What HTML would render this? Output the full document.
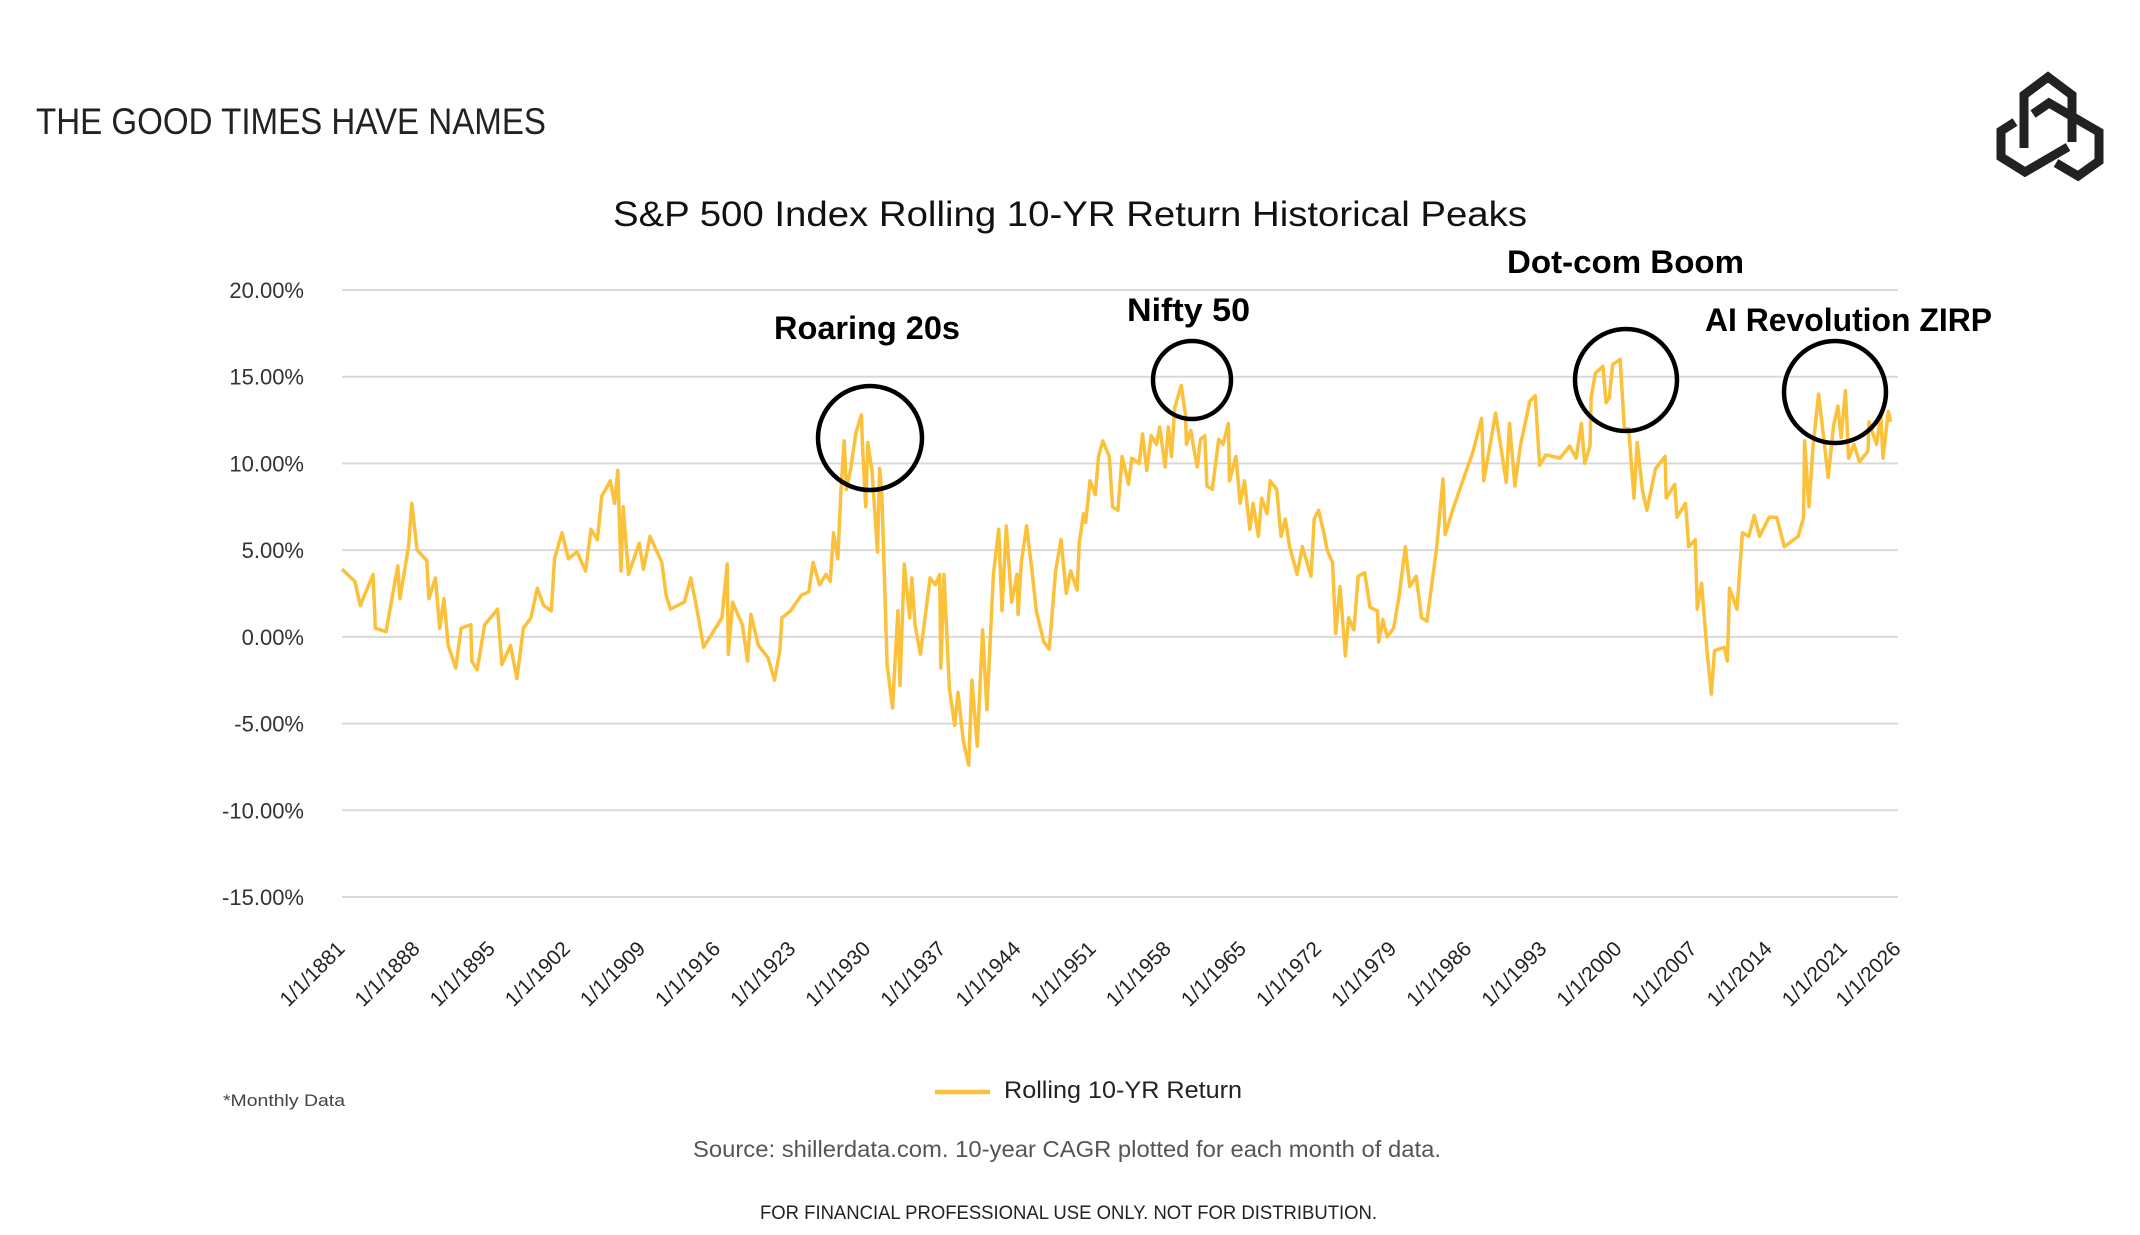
<!DOCTYPE html>
<html><head><meta charset="utf-8"><style>
html,body{margin:0;padding:0;background:#fff;}
svg{display:block;}
text{font-family:"Liberation Sans",sans-serif;}
</style></head><body>
<svg id="chart" width="2140" height="1235" viewBox="0 0 2140 1235" xmlns="http://www.w3.org/2000/svg">
<rect width="2140" height="1235" fill="#fff"/>
<text x="36" y="134" font-size="37" fill="#222" textLength="510" lengthAdjust="spacingAndGlyphs">THE GOOD TIMES HAVE NAMES</text>
<g fill="none" stroke="#222" stroke-width="9" stroke-linejoin="miter">
<polyline points="2024,148 2024,95 2048,77 2072,95 2072,142"/>
<polyline points="2033,114 2049,103 2099,132 2099,161 2078,176 2056,163"/>
<polyline points="2015,122 2001,131 2001,157 2025,172 2068,147"/>
</g>
<text x="1070" y="226" text-anchor="middle" font-size="35" fill="#111" textLength="914" lengthAdjust="spacingAndGlyphs">S&amp;P 500 Index Rolling 10-YR Return Historical Peaks</text>
<g id="grid"></g>
<g id="yaxis"></g>
<g id="xaxis"></g>
<g id="series"></g>
<g fill="none" stroke="#000" stroke-width="4.5">
<circle cx="870" cy="438" r="52"/>
<circle cx="1192" cy="380" r="39"/>
<circle cx="1626" cy="380" r="51"/>
<circle cx="1835" cy="392" r="51"/>
</g>
<g font-size="32" fill="#000" font-weight="bold">
<text x="774" y="339" textLength="186" lengthAdjust="spacingAndGlyphs">Roaring 20s</text>
<text x="1127" y="321" textLength="123" lengthAdjust="spacingAndGlyphs">Nifty 50</text>
<text x="1507" y="273" textLength="237" lengthAdjust="spacingAndGlyphs">Dot-com Boom</text>
<text x="1705" y="331" textLength="287" lengthAdjust="spacingAndGlyphs">AI Revolution ZIRP</text>
</g>
<text x="223" y="1106" font-size="17" fill="#444" textLength="122" lengthAdjust="spacingAndGlyphs">*Monthly Data</text>
<g>
<line x1="935" y1="1092" x2="990" y2="1092" stroke="#FBC13B" stroke-width="4.5"/>
<text x="1004" y="1098" font-size="24" fill="#222" textLength="238" lengthAdjust="spacingAndGlyphs">Rolling 10-YR Return</text>
</g>
<text x="693" y="1157" font-size="23" fill="#555" textLength="748" lengthAdjust="spacingAndGlyphs">Source: shillerdata.com. 10-year CAGR plotted for each month of data.</text>
<text x="760" y="1219" font-size="19" fill="#222" textLength="617" lengthAdjust="spacingAndGlyphs">FOR FINANCIAL PROFESSIONAL USE ONLY. NOT FOR DISTRIBUTION.</text>
</svg>
<script>
const yTicks = [20, 15, 10, 5, 0, -5, -10, -15];
const yTickLabels = ["20.00%","15.00%","10.00%","5.00%","0.00%","-5.00%","-10.00%","-15.00%"];
const xTickYears = [1881,1888,1895,1902,1909,1916,1923,1930,1937,1944,1951,1958,1965,1972,1979,1986,1993,2000,2007,2014,2021,2026];
const dates = [1881.0,1882.2,1882.7,1883.9,1884.1,1885.1,1886.2,1886.4,1887.2,1887.5,1888.0,1888.9,1889.1,1889.7,1890.1,1890.5,1890.9,1891.6,1892.1,1893.0,1893.1,1893.6,1894.3,1895.5,1895.9,1896.7,1897.3,1897.9,1898.6,1899.2,1899.8,1900.5,1900.8,1901.5,1902.1,1902.9,1903.7,1904.2,1904.8,1905.2,1906.0,1906.4,1906.7,1907.0,1907.2,1907.7,1908.7,1909.1,1909.7,1910.8,1911.2,1911.6,1912.9,1913.5,1914.1,1914.7,1915.8,1916.4,1916.9,1917.0,1917.4,1918.3,1918.8,1919.1,1919.8,1920.7,1921.3,1921.8,1922.0,1922.8,1923.8,1924.5,1924.9,1925.5,1926.1,1926.5,1926.8,1927.2,1927.5,1927.8,1928.0,1928.4,1928.9,1929.4,1929.5,1929.8,1930.0,1930.4,1930.9,1931.1,1931.3,1931.8,1932.3,1932.8,1933.0,1933.4,1933.9,1934.1,1934.4,1934.9,1935.8,1936.3,1936.7,1936.8,1937.1,1937.6,1938.1,1938.4,1938.9,1939.4,1939.7,1940.2,1940.7,1941.1,1941.7,1942.2,1942.5,1942.9,1943.4,1943.9,1944.0,1944.3,1944.8,1945.3,1945.7,1946.4,1946.9,1947.5,1948.0,1948.5,1948.9,1949.5,1949.7,1950.1,1950.3,1950.7,1951.2,1951.5,1951.9,1952.5,1952.8,1953.3,1953.7,1954.3,1954.6,1955.3,1955.6,1956.0,1956.4,1956.9,1957.2,1957.7,1958.0,1958.3,1958.6,1959.2,1959.6,1959.7,1960.1,1960.4,1960.7,1961.0,1961.4,1961.6,1962.1,1962.7,1963.1,1963.6,1963.7,1964.3,1964.7,1965.1,1965.6,1965.9,1966.4,1966.7,1967.2,1967.5,1968.1,1968.5,1968.9,1969.3,1970.0,1970.5,1971.3,1971.6,1972.0,1972.5,1972.8,1973.3,1973.6,1974.0,1974.5,1974.8,1975.3,1975.7,1976.3,1976.8,1977.5,1977.6,1978.0,1978.4,1979.0,1979.5,1980.1,1980.5,1981.1,1981.6,1982.1,1983.0,1983.6,1983.8,1984.6,1986.4,1987.2,1987.4,1988.5,1989.5,1989.8,1990.3,1990.8,1991.7,1992.2,1992.6,1993.2,1994.5,1995.4,1996.0,1996.5,1996.8,1997.3,1997.4,1997.8,1998.5,1998.8,1999.1,1999.4,2000.1,2000.5,2000.9,2001.4,2001.7,2002.2,2002.6,2003.4,2004.3,2004.4,2005.2,2005.4,2006.2,2006.5,2007.1,2007.3,2007.7,2008.2,2008.6,2008.9,2009.8,2010.1,2010.3,2011.0,2011.5,2012.1,2012.6,2013.1,2014.0,2014.7,2015.4,2016.7,2017.2,2017.3,2017.7,2018.1,2018.6,2019.1,2019.5,2020.0,2020.4,2020.7,2021.1,2021.4,2021.9,2022.4,2023.2,2023.3,2024.0,2024.4,2024.6,2025.1,2025.3];
const returns = [3.9,3.2,1.8,3.6,0.5,0.3,4.1,2.2,5.2,7.7,5.0,4.4,2.2,3.4,0.5,2.2,-0.5,-1.8,0.5,0.7,-1.4,-1.9,0.7,1.6,-1.6,-0.5,-2.4,0.5,1.1,2.8,1.8,1.5,4.5,6.0,4.5,4.9,3.8,6.2,5.6,8.1,9.0,7.7,9.6,3.8,7.5,3.6,5.4,3.9,5.8,4.3,2.4,1.6,2.0,3.4,1.5,-0.6,0.5,1.1,4.2,-1.0,2.0,0.7,-1.4,1.3,-0.5,-1.2,-2.5,-0.8,1.1,1.5,2.4,2.6,4.3,3.0,3.6,3.2,6.0,4.5,8.5,11.3,8.5,9.7,11.8,12.8,11.0,7.5,11.2,9.5,4.9,9.7,8.3,-1.6,-4.1,1.5,-2.8,4.2,1.1,3.4,0.7,-1.0,3.4,3.0,3.6,-1.8,3.6,-3.0,-5.1,-3.2,-6.0,-7.4,-2.5,-6.3,0.4,-4.2,3.6,6.2,1.5,6.4,2.0,3.6,1.3,4.3,6.4,3.8,1.5,-0.3,-0.7,3.8,5.6,2.5,3.8,2.7,5.4,7.1,6.6,9.0,8.2,10.4,11.3,10.4,7.5,7.3,10.4,8.8,10.3,10.0,11.7,9.6,11.6,11.1,12.1,9.8,12.1,10.4,13.2,14.5,12.8,11.1,11.9,10.8,9.8,11.4,11.6,8.7,8.5,11.4,11.1,12.3,9.0,10.4,7.7,9.0,6.2,7.7,5.8,8.0,7.1,9.0,8.5,5.8,6.8,5.2,3.6,5.2,3.5,6.8,7.3,6.0,5.0,4.3,0.2,2.9,-1.1,1.1,0.4,3.5,3.7,1.7,1.5,-0.3,1.0,0.0,0.5,2.3,5.2,2.9,3.5,1.1,0.9,5.1,9.1,5.9,7.5,10.7,12.6,9.0,12.9,8.9,12.3,8.7,11.0,13.6,13.9,9.9,10.5,10.3,11.0,10.3,12.3,10.0,11.0,13.8,15.2,15.6,13.5,13.8,15.7,16.0,12.0,12.0,8.0,11.2,8.4,7.3,9.7,10.4,8.0,8.8,6.9,7.7,5.2,5.6,1.6,3.1,-0.8,-3.3,-0.8,-0.6,-1.4,2.8,1.6,6.0,5.8,7.0,5.8,6.9,6.9,5.2,5.8,6.9,11.3,7.5,11.1,14.0,11.3,9.2,12.2,13.3,11.5,14.2,10.3,11.1,10.1,10.7,12.4,11.1,12.8,10.3,13.0,12.4];

const svgNS = "http://www.w3.org/2000/svg";
const X0 = 342, X1 = 1898, Y_TOP = 290, Y_BOT = 897;
function xScale(yr){ return X0 + (yr - 1881) / (2026 - 1881) * (X1 - X0); }
function yScale(v){ return Y_TOP + (20 - v) / 35 * (Y_BOT - Y_TOP); }
function mk(tag, attrs){ const e = document.createElementNS(svgNS, tag); for (const k in attrs) e.setAttribute(k, attrs[k]); return e; }

const grid = document.getElementById('grid');
const yaxis = document.getElementById('yaxis');
yTicks.forEach((t, i) => {
  const ln = mk('line', {x1: X0, x2: X1, y1: yScale(t), y2: yScale(t), stroke: '#d9d9d9', 'stroke-width': 2});
  
  
  grid.appendChild(ln);
  const tx = mk('text', {x: 304, y: yScale(t) + 8, 'text-anchor': 'end', 'font-size': 22, fill: '#333'});
  tx.textContent = yTickLabels[i];
  
  
  yaxis.appendChild(tx);
});

const xaxis = document.getElementById('xaxis');
xTickYears.forEach(yr => {
  const x = xScale(yr) + 4, y = 950;
  const tx = mk('text', {x: x, y: y, 'text-anchor': 'end', 'font-size': 21, fill: '#222', transform: 'rotate(-45 ' + x + ' ' + y + ')'});
  tx.textContent = '1/1/' + yr;
  
  
  xaxis.appendChild(tx);
});

const pts = dates.map((d, i) => xScale(d).toFixed(1) + ',' + yScale(returns[i]).toFixed(1)).join(' ');
const line = mk('polyline', {points: pts, fill: 'none', stroke: '#FBC13B', 'stroke-width': 3.5, 'stroke-linejoin': 'round'});


document.getElementById('series').appendChild(line);
</script>
</body></html>
